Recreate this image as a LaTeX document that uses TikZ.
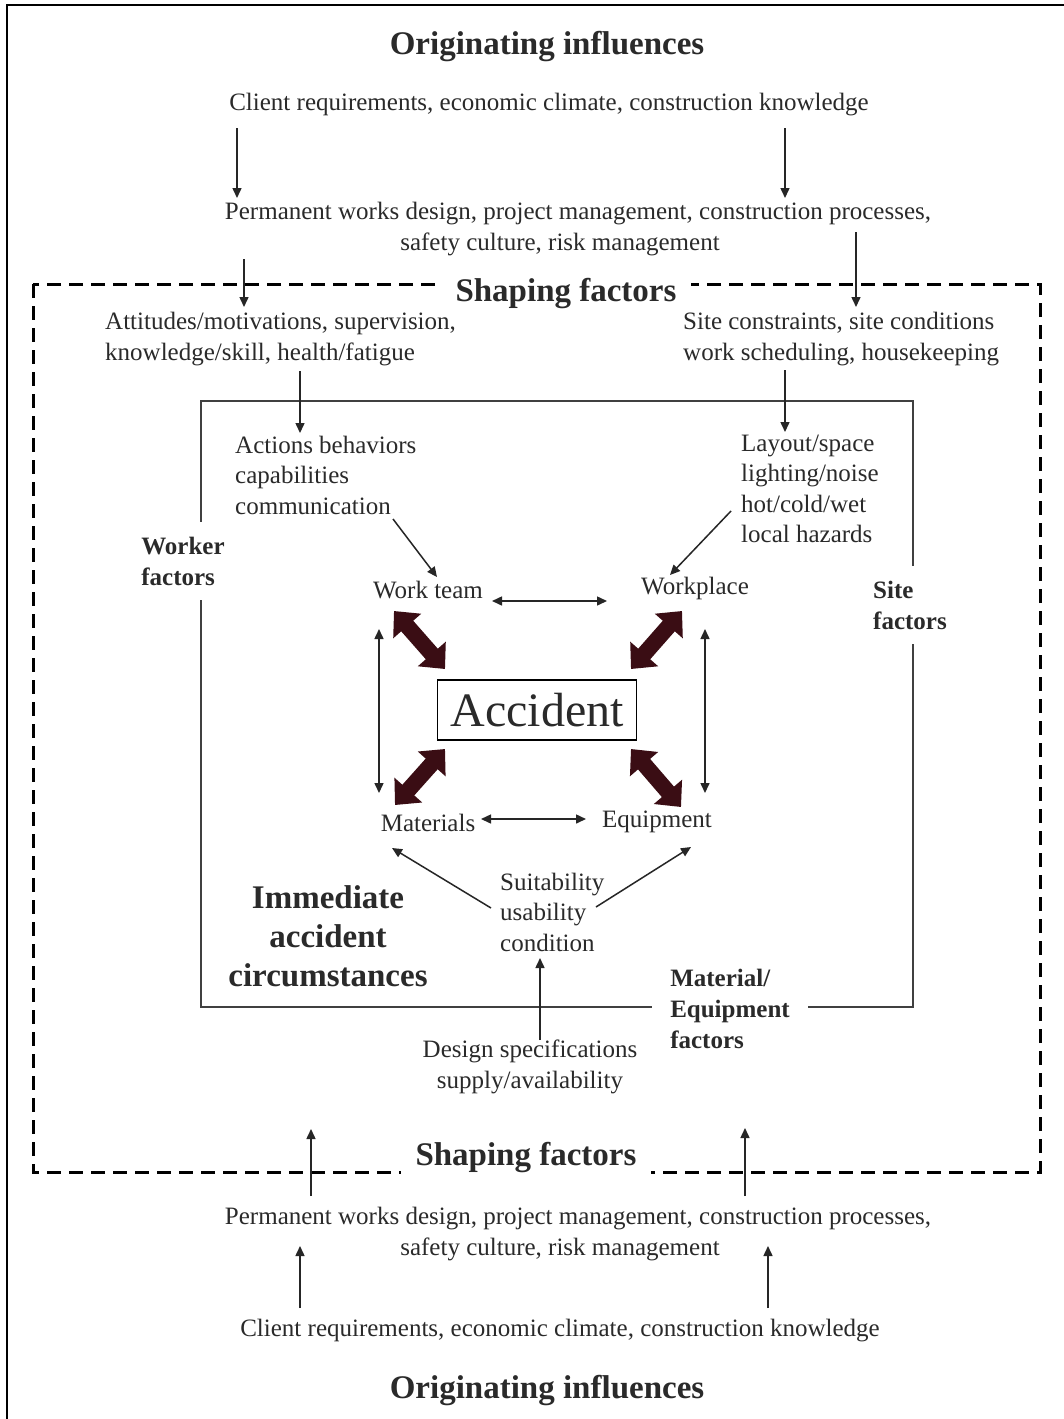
\documentclass[tikz,border=0pt]{standalone}
\usepackage{fontspec}
\setmainfont{Liberation Serif}
\usetikzlibrary{arrows.meta}
\definecolor{txtc}{HTML}{2A2A2A}
\definecolor{fatc}{HTML}{3A0D14}
\begin{document}
\begin{tikzpicture}[x=1pt,y=-1pt,
  body/.style={font=\fontsize{25}{30.5}\selectfont,text=txtc,inner sep=0pt},
  lab/.style={font=\bfseries\fontsize{25}{31}\selectfont,text=txtc,inner sep=0pt},
  head/.style={font=\bfseries\fontsize{33}{39}\selectfont,text=txtc,inner sep=0pt},
  arr/.style={line width=1.5pt,draw=black!85,-{Triangle[length=10pt,width=9pt]}},
  darr/.style={line width=1.5pt,draw=black!85,{Triangle[length=10pt,width=9pt]}-{Triangle[length=10pt,width=9pt]}},
  fat/.style={draw=fatc,line width=16pt,{Triangle[length=20pt,width=36pt]}-{Triangle[length=20pt,width=36pt]}},
  dashbox/.style={line width=3pt,dash pattern=on 14pt off 8pt},
  solidbox/.style={line width=2pt,draw=black!75},
  gapfill/.style={fill=white}
]
\useasboundingbox (0,0) rectangle (1064,1419);
\fill[white] (0,0) rectangle (1064,1419);
% outer frame (top and left edges)
\draw[line width=2.5pt] (7,1419) -- (7,5) -- (1064,5);

% dashed shaping-factors box
\draw[dashbox] (33,284) rectangle (1040,1172);
% inner solid box
\draw[solidbox] (201,401) rectangle (913,1007);

% headings
\node[head] (orig1) at (547,47) {Originating influences};
\node[body] (client1) at (549,105) {Client requirements, economic climate, construction knowledge};
\node[body,align=center] (perm1) at (578,229) {Permanent works design, project management, construction processes,\\safety culture, risk management\hspace*{36pt}};
\node[head,gapfill,inner xsep=15pt,inner ysep=3pt] (shape1) at (566,294) {Shaping factors};

\node[body,align=left,anchor=west] (worker1) at (105,339) {Attitudes/motivations, supervision,\\knowledge/skill, health/fatigue};
\node[body,align=left,anchor=west] (site1) at (683,339) {Site constraints, site conditions\\work scheduling, housekeeping};

% side labels on the solid box
\node[lab,align=left,gapfill,inner xsep=3pt,inner ysep=15pt] (wf) at (183,561) {Worker\\factors};
\node[lab,align=left,gapfill,inner xsep=3pt,inner ysep=15pt] (sf) at (910,605) {Site\\factors};
\node[lab,align=left,gapfill,inner xsep=18pt,inner ysep=4pt] (mef) at (730,1009) {Material/\\Equipment\\factors};

% inner content
\node[body,align=left,anchor=west] (act) at (235,475) {Actions behaviors\\capabilities\\communication};
\node[body,align=left,anchor=west] (lay) at (741,489) {Layout/space\\lighting/noise\\hot/cold/wet\\local hazards};
\node[body] (wt) at (428,590) {Work team};
\node[body] (wp) at (695,588) {Workplace};
\node[draw,line width=1.8pt,minimum width=199pt,minimum height=60pt,inner sep=0pt,text=txtc,font=\fontsize{48}{50}\selectfont] (acc) at (537,710) {Accident};
\node[body] (mat) at (428,823) {Materials};
\node[body] (eq) at (657,822) {Equipment};
\node[body,align=left,anchor=west] (suit) at (500,912) {Suitability\\usability\\condition};
\node[head,align=center] (imm) at (328,936) {Immediate\\accident\\circumstances};
\node[body,align=center] (des) at (530,1067) {Design specifications\\supply/availability};

% bottom
\node[head,gapfill,inner xsep=15pt,inner ysep=3pt] (shape2) at (526,1158) {Shaping factors};
\node[body,align=center] (perm2) at (578,1234) {Permanent works design, project management, construction processes,\\safety culture, risk management\hspace*{36pt}};
\node[body] (client2) at (560,1331) {Client requirements, economic climate, construction knowledge};
\node[head] (orig2) at (547,1391) {Originating influences};

% connector end points
\coordinate (a1s) at (237,128); \coordinate (a1e) at (237,198);
\coordinate (a2s) at (785,128); \coordinate (a2e) at (785,198);
\coordinate (a3s) at (244,259); \coordinate (a3e) at (244,307);
\coordinate (a4s) at (856,232); \coordinate (a4e) at (856,307);
\coordinate (a5s) at (300,371); \coordinate (a5e) at (300,433);
\coordinate (a6s) at (785,370); \coordinate (a6e) at (785,432);
\coordinate (a7s) at (393,519); \coordinate (a7e) at (437,577);
\coordinate (a8s) at (731,511); \coordinate (a8e) at (670,575);
\coordinate (d1s) at (492,601); \coordinate (d1e) at (607,601);
\coordinate (d2s) at (379,629); \coordinate (d2e) at (379,793);
\coordinate (d3s) at (705,629); \coordinate (d3e) at (705,793);
\coordinate (d4s) at (481,819); \coordinate (d4e) at (586,819);
\coordinate (a9s) at (491,908); \coordinate (a9e) at (392,848);
\coordinate (a10s) at (596,907); \coordinate (a10e) at (691,847);
\coordinate (a11s) at (540,1040); \coordinate (a11e) at (540,958);
\coordinate (b1s) at (311,1196); \coordinate (b1e) at (311,1129);
\coordinate (b2s) at (745,1196); \coordinate (b2e) at (745,1128);
\coordinate (b3s) at (300,1308); \coordinate (b3e) at (300,1246);
\coordinate (b4s) at (768,1308); \coordinate (b4e) at (768,1246);
\coordinate (f1s) at (394,611); \coordinate (f1e) at (445,669);
\coordinate (f2s) at (682,611); \coordinate (f2e) at (631,669);
\coordinate (f3s) at (445,749); \coordinate (f3e) at (395,805);
\coordinate (f4s) at (631,749); \coordinate (f4e) at (681,807);

% thin arrows
\foreach \p in {a1,a2,a3,a4,a5,a6,a7,a8,a9,a10,a11,b1,b2,b3,b4}
  \draw[arr] (\p s) -- (\p e);
\foreach \p in {d1,d2,d3,d4}
  \draw[darr] (\p s) -- (\p e);
% fat double arrows
\foreach \p in {f1,f2,f3,f4}
  \draw[fat] (\p s) -- (\p e);
\end{tikzpicture}
\end{document}
